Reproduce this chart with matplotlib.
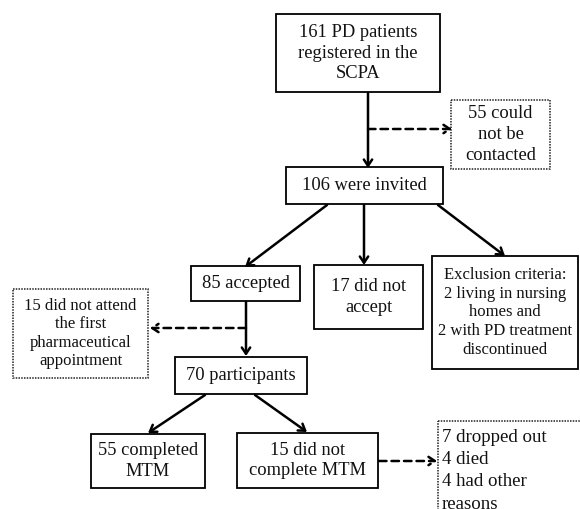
import matplotlib
matplotlib.use("Agg")
import matplotlib.pyplot as plt
from matplotlib.patches import Rectangle

plt.rcParams["font.family"] = ["Liberation Serif", "DejaVu Serif"]

# box texts
main_labels = [
    "161 PD patients\nregistered in the\nSCPA",
    "106 were invited",
    "85 accepted",
    "17 did not\naccept",
    "Exclusion criteria:\n2 living in nursing\nhomes and\n2 with PD treatment\ndiscontinued",
    "70 participants",
    "55 completed\nMTM",
    "15 did not\ncomplete MTM",
]
side_labels = [
    "55 could\nnot be\ncontacted",
    "15 did not attend\nthe first\npharmaceutical\nappointment",
]
dropout_lines = ["7 dropped out", "4 died", "4 had other", "reasons"]

# layout in pixels (x0, y0, x1, y1), y downward
main_boxes = [
    (276, 14, 440, 92),
    (286, 167, 443, 204),
    (191, 266, 300, 301),
    (314, 265, 423, 329),
    (432, 256, 578, 369),
    (175, 357, 307, 394),
    (91, 434, 205, 488),
    (237, 433, 378, 488),
]
main_sizes = [13.3, 13.3, 13.3, 13.3, 12.0, 13.3, 13.2, 13.3]
main_spacing = [1.3, 1.3, 1.3, 1.3, 1.22, 1.3, 1.3, 1.3]
side_boxes = [
    (451, 100, 550, 169),
    (13, 289, 148, 378),
]
side_sizes = [13.3, 12.0]
side_spacing = [1.3, 1.22]
dropout_box = (438, 421, 600, 530)

fig = plt.figure(figsize=(5.8, 5.09), dpi=100)
ax = fig.add_axes([0, 0, 1, 1])
ax.set_xlim(0, 580)
ax.set_ylim(509, 0)
ax.axis("off")


def box(b, style="solid"):
    x0, y0, x1, y1 = b
    if style == "solid":
        r = Rectangle((x0, y0), x1 - x0, y1 - y0, fill=False, ec="black", lw=1.3)
    else:
        r = Rectangle((x0, y0), x1 - x0, y1 - y0, fill=False, ec="#222222",
                      lw=1.1, ls=(0, (1, 0.8)))
    ax.add_patch(r)


def centre_text(b, s, fs, sp):
    x0, y0, x1, y1 = b
    ax.text((x0 + x1) / 2, (y0 + y1) / 2, s, ha="center", va="center",
            fontsize=fs, linespacing=sp, multialignment="center", color="#111111")


def arrow(p0, p1, dashed=False):
    ax.annotate("", xy=p1, xytext=p0,
                arrowprops=dict(arrowstyle="->,head_length=0.45,head_width=0.3",
                                lw=1.8, color="black",
                                linestyle=(0, (3, 2)) if dashed else "-",
                                shrinkA=0, shrinkB=0))


for b, s, fs, sp in zip(main_boxes, main_labels, main_sizes, main_spacing):
    box(b)
    centre_text(b, s, fs, sp)
for b, s, fs, sp in zip(side_boxes, side_labels, side_sizes, side_spacing):
    box(b, "dotted")
    centre_text(b, s, fs, sp)

box(dropout_box, "dotted")
for i, s in enumerate(dropout_lines):
    ax.text(442, 437 + i * 22.5, s, ha="left", va="center", fontsize=13.6,
            color="#111111")

# connectors
arrow((368, 93), (368, 168))
arrow((368, 129), (452, 129), dashed=True)
arrow((327, 205), (245, 267))
arrow((364, 205), (364, 265))
arrow((438, 205), (505, 256))
arrow((246, 302), (246, 356))
arrow((246, 328), (150, 328), dashed=True)
arrow((205, 395), (148, 433))
arrow((255, 395), (307, 432))
arrow((379, 461), (437, 461), dashed=True)

fig.savefig("out.png", dpi=100)
